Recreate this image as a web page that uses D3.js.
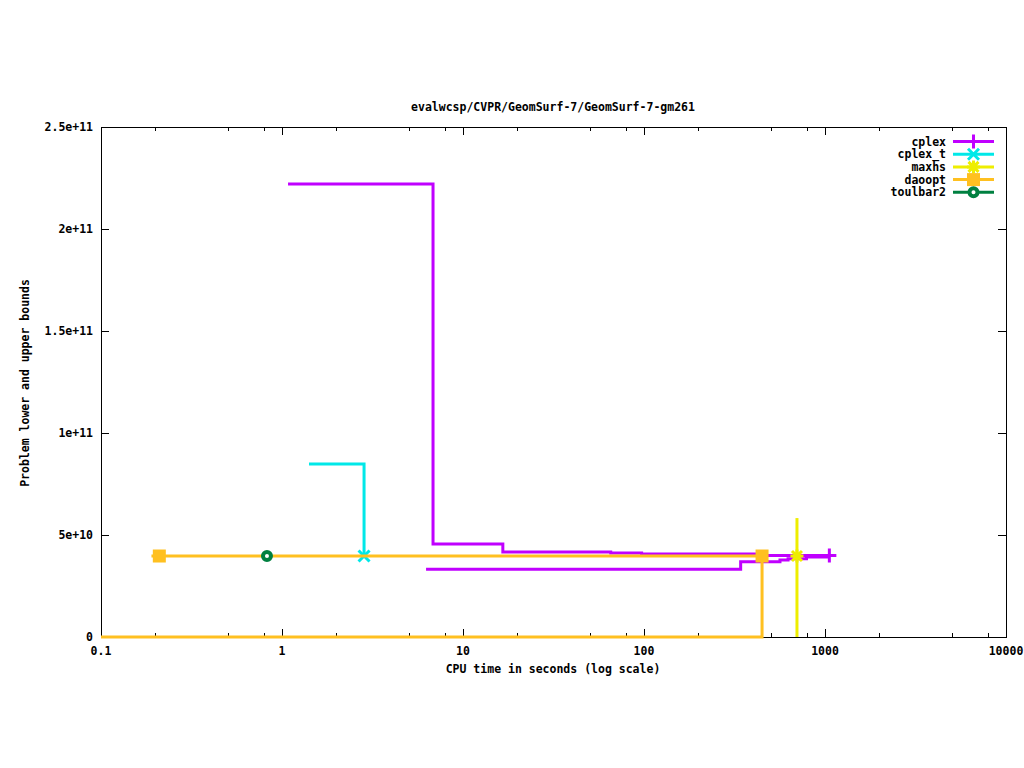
<!DOCTYPE html>
<html><head><meta charset="utf-8">
<script src="https://cdn.jsdelivr.net/npm/d3@7"></script>
<style>
body{margin:0;background:#fff}
text{font-family:"DejaVu Sans Mono","Liberation Mono",monospace;font-weight:bold;font-size:11.5px;fill:#000}
</style>
</head><body>
<svg id="chart" width="1024" height="768"></svg>
<script>
// ---- text ----
const titleText = "evalwcsp/CVPR/GeomSurf-7/GeomSurf-7-gm261";
const xLabelText = "CPU time in seconds (log scale)";
const yLabelText = "Problem lower and upper bounds";

// ---- ticks ----
const xTickValues = [0.1, 1, 10, 100, 1000, 10000];
const xTickLabels = ["0.1", "1", "10", "100", "1000", "10000"];
const xMinorTicks = [0.2, 0.5, 0.8, 2, 5, 8, 20, 50, 80, 200, 500, 800, 2000, 5000, 8000];
const yTickValues = [0, 5e10, 1e11, 1.5e11, 2e11, 2.5e11];
const yTickLabels = ["0", "5e+10", "1e+11", "1.5e+11", "2e+11", "2.5e+11"];

// ---- series ----
const seriesNames = ["cplex", "cplex_t", "maxhs", "daoopt", "toulbar2"];
const seriesColors = ["#c000ff", "#00e8e8", "#eeee00", "#ffc020", "#008040"];
const seriesMarkers = ["plus", "cross", "star", "square", "circle"];

// cplex
const cplexUpperT = [1.08, 6.83, 16.6, 65.5, 97, 449, 1057];
const cplexUpperV = [2.22e11, 4.56e10, 4.17e10, 4.12e10, 4.07e10, 4.0e10, 4.0e10];
const cplexLowerT = [6.25, 342, 564, 625, 790, 1057];
const cplexLowerV = [3.32e10, 3.69e10, 3.77e10, 3.84e10, 3.92e10, 3.92e10];
const cplexMarkT = [1057];
const cplexMarkV = [4.0e10];
// cplex_t
const cplexTUpperT = [1.41, 2.84];
const cplexTUpperV = [8.48e10, 3.97e10];
const cplexTMarkT = [2.84];
const cplexTMarkV = [3.97e10];
// maxhs
const maxhsT = [700, 700];
const maxhsV = [5.83e10, 0];
const maxhsMarkT = [700];
const maxhsMarkV = [3.97e10];
// daoopt
const daooptUpperT = [0.19, 449];
const daooptUpperV = [3.97e10, 3.97e10];
const daooptLowerT = [0.05, 449];
const daooptLowerV = [0, 3.97e10];
const daooptMarkT = [0.21, 449];
const daooptMarkV = [3.97e10, 3.97e10];
// toulbar2
const toulbarMarkT = [0.826];
const toulbarMarkV = [3.97e10];

const seriesData = [
  {lines: [[cplexUpperT, cplexUpperV], [cplexLowerT, cplexLowerV]], marks: [cplexMarkT, cplexMarkV]},
  {lines: [[cplexTUpperT, cplexTUpperV]], marks: [cplexTMarkT, cplexTMarkV]},
  {lines: [[maxhsT, maxhsV]], marks: [maxhsMarkT, maxhsMarkV]},
  {lines: [[daooptUpperT, daooptUpperV], [daooptLowerT, daooptLowerV]], marks: [daooptMarkT, daooptMarkV]},
  {lines: [], marks: [toulbarMarkT, toulbarMarkV]}
];

// ---- layout ----
const L = 101, R = 1006, T = 127, B = 637;
const svg = d3.select("#chart");
svg.append("rect").attr("width", 1024).attr("height", 768).attr("fill", "#fff");

const x = d3.scaleLog().domain([0.1, 10000]).range([L, R]);
const y = d3.scaleLinear().domain([0, 2.5e11]).range([B, T]);

// ticks (inside, mirrored)
const g = svg.append("g").attr("stroke", "#000").attr("stroke-width", 1).attr("shape-rendering", "crispEdges");
xTickValues.forEach(v => {
  const px = Math.round(x(v)) + 0.5;
  g.append("line").attr("x1", px).attr("x2", px).attr("y1", B).attr("y2", B - 8);
  g.append("line").attr("x1", px).attr("x2", px).attr("y1", T).attr("y2", T + 8);
});
xMinorTicks.forEach(v => {
  const px = Math.round(x(v)) + 0.5;
  g.append("line").attr("x1", px).attr("x2", px).attr("y1", B).attr("y2", B - 4);
  g.append("line").attr("x1", px).attr("x2", px).attr("y1", T).attr("y2", T + 4);
});
yTickValues.forEach(v => {
  const py = Math.round(y(v)) + 0.5;
  g.append("line").attr("x1", L).attr("x2", L + 8).attr("y1", py).attr("y2", py);
  g.append("line").attr("x1", R).attr("x2", R - 8).attr("y1", py).attr("y2", py);
});
g.append("rect").attr("x", L + 0.5).attr("y", T + 0.5).attr("width", R - L).attr("height", B - T).attr("fill", "none");

// tick labels
xTickValues.forEach((v, i) => {
  svg.append("text").attr("x", x(v)).attr("y", B + 18).attr("text-anchor", "middle").text(xTickLabels[i]);
});
yTickValues.forEach((v, i) => {
  svg.append("text").attr("x", 93).attr("y", y(v) + 4).attr("text-anchor", "end").text(yTickLabels[i]);
});

// titles
svg.append("text").attr("x", 553).attr("y", 111).attr("text-anchor", "middle").text(titleText);
svg.append("text").attr("x", 553).attr("y", 673).attr("text-anchor", "middle").text(xLabelText);
svg.append("text").attr("transform", "translate(29,383) rotate(-90)").attr("text-anchor", "middle").text(yLabelText);

// clip
svg.append("clipPath").attr("id", "clip").append("rect")
  .attr("x", L).attr("y", T - 10).attr("width", R - L).attr("height", B - T + 14);

const plot = svg.append("g").attr("clip-path", "url(#clip)");
const line = d3.line().x(d => x(d[0])).y(d => y(d[1])).curve(d3.curveStepAfter);

function drawMarker(sel, type, color, cx, cy) {
  const gg = sel.append("g").attr("transform", `translate(${cx},${cy})`);
  if (type === "plus") {
    gg.append("path").attr("d", "M-7,0H7M0,-7V7").attr("stroke", color).attr("stroke-width", 3).attr("fill", "none");
  } else if (type === "cross") {
    gg.append("path").attr("d", "M-5.5,-5.5L5.5,5.5M-5.5,5.5L5.5,-5.5").attr("stroke", color).attr("stroke-width", 3).attr("fill", "none");
  } else if (type === "star") {
    gg.append("path").attr("d", "M-6.5,0H6.5M0,-6.5V6.5M-5,-5L5,5M-5,5L5,-5").attr("stroke", color).attr("stroke-width", 3).attr("fill", "none");
  } else if (type === "square") {
    gg.append("rect").attr("x", -6.5).attr("y", -6.5).attr("width", 13).attr("height", 13).attr("fill", color);
  } else if (type === "circle") {
    gg.append("circle").attr("r", 4).attr("stroke", color).attr("stroke-width", 4).attr("fill", "#fff");
  }
}

seriesData.forEach((s, i) => {
  const color = seriesColors[i];
  s.lines.forEach(([ts, vs]) => {
    const pts = ts.map((t, k) => [t, vs[k]]);
    plot.append("path").attr("d", line(pts)).attr("fill", "none")
      .attr("stroke", color).attr("stroke-width", 3).attr("stroke-linejoin", "miter");
  });
  const [mt, mv] = s.marks;
  mt.forEach((t, k) => drawMarker(plot, seriesMarkers[i], color, x(t), y(mv[k])));
});

// legend
seriesNames.forEach((name, i) => {
  const ly = 141.5 + i * 12.7;
  svg.append("text").attr("x", 946).attr("y", ly + 4).attr("text-anchor", "end").text(name);
  svg.append("line").attr("x1", 953).attr("x2", 994).attr("y1", ly).attr("y2", ly)
    .attr("stroke", seriesColors[i]).attr("stroke-width", 3);
  drawMarker(svg, seriesMarkers[i], seriesColors[i], 973.5, ly);
});
</script>
</body></html>
